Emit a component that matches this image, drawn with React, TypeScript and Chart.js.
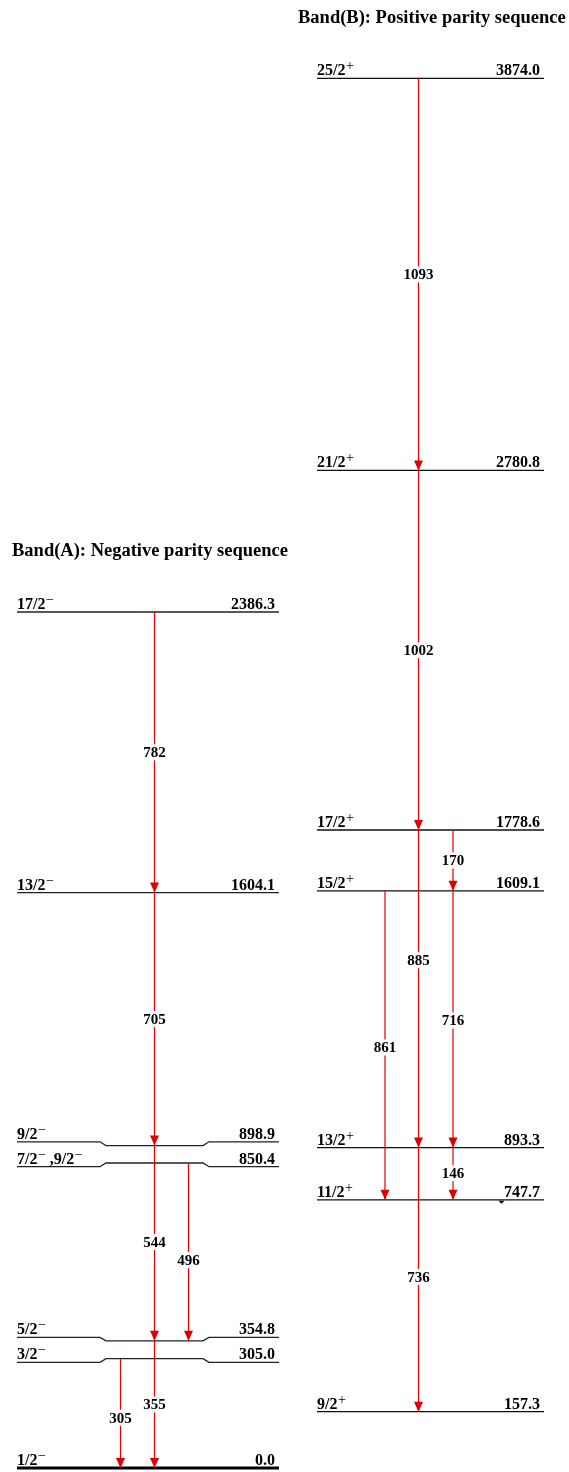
import React, { useEffect, useRef } from "react";
import { Chart, registerables } from "chart.js";

Chart.register(...registerables);

// ---------------- DATA ----------------
// Band (A): negative parity sequence — level energies (keV) and spins
const bandAEnergies = [0.0, 305.0, 354.8, 850.4, 898.9, 1604.1, 2386.3];
const bandASpins = ["1/2{−}", "3/2{−}", "5/2{−}", "7/2{−} ,9/2{−}", "9/2{−}", "13/2{−}", "17/2{−}"];

// Band (B): positive parity sequence
const bandBEnergies = [157.3, 747.7, 893.3, 1609.1, 1778.6, 2780.8, 3874.0];
const bandBSpins = ["9/2{+}", "11/2{+}", "13/2{+}", "15/2{+}", "17/2{+}", "21/2{+}", "25/2{+}"];

// Gamma transitions
const gammaLabels = ["782", "705", "544", "355", "496", "305", "1093", "1002", "885", "736", "170", "716", "146", "861"];
const gammaFrom = [2386.3, 1604.1, 898.9, 354.8, 850.4, 305.0, 3874.0, 2780.8, 1778.6, 893.3, 1778.6, 1609.1, 893.3, 1609.1];
const gammaTo = [1604.1, 898.9, 354.8, 0.0, 354.8, 0.0, 2780.8, 1778.6, 893.3, 157.3, 1609.1, 893.3, 747.7, 747.7];

const bandTitles = ["Band(A): Negative parity sequence", "Band(B): Positive parity sequence"];

// ---------------- LAYOUT / STYLE ----------------
const W = 569;
const H = 1472;
const Y_MIN = -10.87;
const Y_MAX = 4092.2;
const PX_PER_KEV = H / (Y_MAX - Y_MIN);

const bandAX = [17, 279];
const bandBX = [317, 544];
const kinkX = [100, 106, 203, 209];
// pixel offsets of the side parts of "kinked" levels (negative = upwards)
const kinkOffsets: Record<string, number> = { "898.9": -3.8, "850.4": 3.7, "354.8": -3.5, "305.0": 3.6 };

const gammaColumn = [154.5, 154.5, 154.5, 154.5, 188.5, 120.5, 418.5, 418.5, 418.5, 418.5, 453, 453, 453, 385];
const gammaLabelFrac = [0.5, 0.5, 0.494, 0.5, 0.546, 0.54, 0.5, 0.5, 0.41, 0.49, 0.5, 0.505, 0.49, 0.507];

const RED = "#dd0000";
const SERIF = "'Liberation Serif', 'Times New Roman', Times, serif";
const LEVEL_FONT = `bold 16px ${SERIF}`;
const SUP_FONT = `14px ${SERIF}`;
const GAMMA_FONT = `bold 15px ${SERIF}`;
const TITLE_FONT = `bold 18.5px ${SERIF}`;

function levelPoints(E: number, x0: number, x1: number, kinked: boolean) {
  const off = kinkOffsets[E.toFixed(1)];
  if (!kinked || off === undefined) {
    return [{ x: x0, y: E }, { x: x1, y: E }];
  }
  const dE = -off / PX_PER_KEV;
  return [
    { x: x0, y: E + dE },
    { x: kinkX[0], y: E + dE },
    { x: kinkX[1], y: E },
    { x: kinkX[2], y: E },
    { x: kinkX[3], y: E + dE },
    { x: x1, y: E + dE },
  ];
}

function buildDatasets() {
  const ds: any[] = [];
  const base = { showLine: true, pointRadius: 0, fill: false, tension: 0 };
  gammaLabels.forEach((_, i) => {
    ds.push({
      ...base,
      data: [
        { x: gammaColumn[i], y: gammaFrom[i] },
        { x: gammaColumn[i], y: gammaTo[i] },
      ],
      borderColor: RED,
      borderWidth: 1.2,
    });
  });
  bandAEnergies.forEach((E) => {
    ds.push({
      ...base,
      data: levelPoints(E, bandAX[0], bandAX[1], true),
      borderColor: E === 0 ? "#000" : "#222",
      borderWidth: E === 0 ? 3 : 1.3,
    });
  });
  bandBEnergies.forEach((E) => {
    ds.push({
      ...base,
      data: levelPoints(E, bandBX[0], bandBX[1], false),
      borderColor: "#111",
      borderWidth: 1.3,
    });
  });
  return ds;
}

function drawSpin(ctx: CanvasRenderingContext2D, str: string, x: number, y: number) {
  const parts = str.split(/(\{[^}]*\})/);
  let cx = x;
  for (const p of parts) {
    if (!p) continue;
    if (p.startsWith("{")) {
      const t = p.slice(1, -1);
      ctx.font = SUP_FONT;
      ctx.fillText(t, cx + 0.5, y - 5);
      cx += ctx.measureText(t).width + 0.5;
    } else {
      ctx.font = LEVEL_FONT;
      ctx.fillText(p, cx, y);
      cx += ctx.measureText(p).width;
    }
  }
}

const schemePlugin = {
  id: "scheme",
  afterDatasetsDraw(chart: any) {
    const ctx: CanvasRenderingContext2D = chart.ctx;
    const xs = chart.scales.x;
    const ys = chart.scales.y;
    ctx.save();

    // arrowheads
    ctx.fillStyle = RED;
    gammaLabels.forEach((_, i) => {
      const px = xs.getPixelForValue(gammaColumn[i]);
      const py = ys.getPixelForValue(gammaTo[i]);
      ctx.beginPath();
      ctx.moveTo(px, py);
      ctx.lineTo(px - 4.5, py - 10);
      ctx.lineTo(px + 4.5, py - 10);
      ctx.closePath();
      ctx.fill();
    });

    // gamma labels
    ctx.font = GAMMA_FONT;
    ctx.textAlign = "center";
    ctx.textBaseline = "middle";
    gammaLabels.forEach((lab, i) => {
      const px = xs.getPixelForValue(gammaColumn[i]);
      const yTop = ys.getPixelForValue(gammaFrom[i]);
      const yBot = ys.getPixelForValue(gammaTo[i]);
      const py = yTop + (yBot - yTop) * gammaLabelFrac[i];
      const w = ctx.measureText(lab).width;
      ctx.fillStyle = "#fff";
      ctx.fillRect(px - w / 2 - 1, py - 8, w + 2, 16);
      ctx.fillStyle = "#000";
      ctx.fillText(lab, px, py + 1);
    });

    // level labels
    ctx.textBaseline = "alphabetic";
    ctx.fillStyle = "#000";
    const drawBand = (energies: number[], spins: string[], bx: number[], kinked: boolean) => {
      energies.forEach((E, i) => {
        const off = kinked ? kinkOffsets[E.toFixed(1)] ?? 0 : 0;
        const ly = ys.getPixelForValue(E) + off - 3;
        ctx.textAlign = "left";
        drawSpin(ctx, spins[i], xs.getPixelForValue(bx[0]), ly);
        ctx.textAlign = "right";
        ctx.font = LEVEL_FONT;
        ctx.fillText(E.toFixed(1), xs.getPixelForValue(bx[1]) - 4, ly);
      });
    };
    drawBand(bandAEnergies, bandASpins, bandAX, true);
    drawBand(bandBEnergies, bandBSpins, bandBX, false);

    // band titles
    ctx.textAlign = "left";
    ctx.font = TITLE_FONT;
    ctx.fillText(bandTitles[0], 12, 556);
    ctx.fillText(bandTitles[1], 298, 23);

    // small marker below the 747.7 level
    const my = ys.getPixelForValue(747.7);
    ctx.beginPath();
    ctx.moveTo(498.5, my + 1);
    ctx.lineTo(504.5, my + 1);
    ctx.lineTo(501.5, my + 4);
    ctx.closePath();
    ctx.fill();

    ctx.restore();
  },
};

export default function App() {
  const ref = useRef<HTMLCanvasElement>(null);
  useEffect(() => {
    const canvas = ref.current;
    if (!canvas) return;
    const chart = new Chart(canvas, {
      type: "scatter",
      data: { datasets: buildDatasets() },
      options: {
        animation: false,
        responsive: false,
        devicePixelRatio: 1,
        events: [],
        layout: { padding: 0 },
        scales: {
          x: { type: "linear", min: 0, max: W, display: false },
          y: { type: "linear", min: Y_MIN, max: Y_MAX, display: false },
        },
        plugins: { legend: { display: false }, tooltip: { enabled: false } },
      },
      plugins: [schemePlugin],
    } as any);
    return () => chart.destroy();
  }, []);
  return (
    <div style={{ position: "absolute", left: 0, top: 0, width: W, height: H, background: "#fff" }}>
      <canvas ref={ref} width={W} height={H} style={{ display: "block", width: W, height: H }} />
    </div>
  );
}
